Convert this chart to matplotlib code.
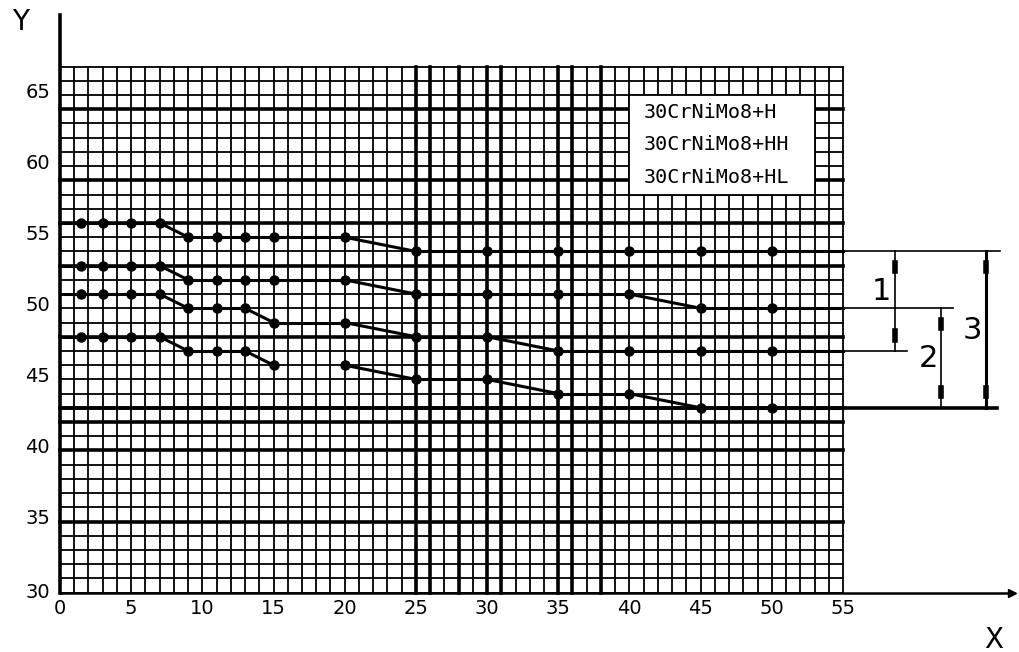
import numpy as np
import matplotlib.pyplot as plt

# Jominy distances (x) and hardness values (y)
dist = [1.5, 3, 5, 7, 9, 11, 13, 15, 20, 25, 30, 35, 40, 45, 50]
s1 = [56, 56, 56, 56, 55, 55, 55, 55, 55, 54, 54, 54, 54, 54, 54]
s2 = [53, 53, 53, 53, 52, 52, 52, 52, 52, 51, 51, 51, 51, 50, 50]
s3 = [51, 51, 51, 51, 50, 50, 50, 49, 49, 48, 48, 47, 47, 47, 47]
s4 = [48, 48, 48, 48, 47, 47, 47, 46, 46, 45, 45, 44, 44, 43, 43]
# segment starting at this x is not drawn
gaps = [[], [], [], [15]]

legend_lines = ['30CrNiMo8+H', '30CrNiMo8+HH', '30CrNiMo8+HL']
xticks = list(range(0, 56, 5))
yticks = list(range(30, 66, 5))
thick_rows = [35, 40, 42, 43, 48, 53, 56, 59, 64]
thick_cols = [25, 26, 28, 30, 31, 35, 36, 38]

XMAX, YMIN, YMAX = 55, 30, 67

fig = plt.figure(figsize=(10.2, 6.52), dpi=100)
ax = fig.add_axes([0, 0, 1, 1])
# pixel mapping: x=0 -> 60px, 14.236 px/unit ; y=30 -> 592.7px, 14.22 px/unit
sx, sy = 14.236, 14.22
ax.set_xlim(-60 / sx, (1020 - 60) / sx)
ax.set_ylim(30 - (652 - 592.7) / sy, 30 + 592.7 / sy)
ax.axis('off')

# grid
for v in range(0, XMAX + 1):
    lw = 2.6 if v in thick_cols else 1.3
    ax.plot([v, v], [YMIN, YMAX], color='black', lw=lw, zorder=1)
for h in range(YMIN, YMAX + 1):
    lw = 2.6 if h in thick_rows else 1.3
    ax.plot([0, XMAX], [h, h], color='black', lw=lw, zorder=1)

# legend box
ax.fill([40, 53, 53, 40], [58, 58, 65, 65], facecolor='white', edgecolor='black', lw=1.3, zorder=3)
for i, t in enumerate(legend_lines):
    ax.text(41, 63.8 - i * 2.3, t, fontsize=14.5, va='center', ha='left', zorder=4,
            family='DejaVu Sans Mono')

# series
for s, g in zip([s1, s2, s3, s4], gaps):
    for i in range(len(dist) - 1):
        if dist[i] in g:
            continue
        ax.plot(dist[i:i + 2], s[i:i + 2], color='black', lw=2.2, zorder=2)
    ax.plot([0, dist[0]], [s[0], s[0]], color='black', lw=2.2, zorder=2)
    ax.plot([dist[-1], XMAX], [s[-1], s[-1]], color='black', lw=2.2, zorder=2)
    ax.plot(dist, s, 'o', color='black', ms=6.5, zorder=3)

# axes with arrows
ax.plot([0, 0], [YMIN, 70.6], color='black', lw=2.6, zorder=2)
ax.plot([0, 66.6], [YMIN, YMIN], color='black', lw=1.8, zorder=2)
ax.plot([66.9], [YMIN], '>', color='black', ms=6, zorder=2)
ax.text(-2.8, 70.1, 'Y', fontsize=20, ha='center', va='center')
ax.text(65.6, 26.7, 'X', fontsize=20, ha='center', va='center')

for t in xticks:
    ax.text(t, 28.9, str(t), fontsize=14, ha='center', va='center')
for t in yticks:
    ax.text(-0.7, t + 0.2 if t != 30 else t, str(t), fontsize=14, ha='right', va='center')

# dimension lines on the right
ax.plot([XMAX, 66.0], [54, 54], color='black', lw=1.2)
ax.plot([XMAX, 62.7], [50, 50], color='black', lw=1.2)
ax.plot([XMAX, 59.5], [47, 47], color='black', lw=1.2)
ax.plot([XMAX, 65.8], [43, 43], color='black', lw=2.6)
ax.plot([0, XMAX], [43, 43], color='black', lw=2.6)

dims = [(58.65, 54, 47, 1.2), (61.9, 50, 43, 1.2), (65.05, 54, 43, 2.2)]
for xd, top, bot, lw in dims:
    ax.plot([xd, xd], [bot, top], color='black', lw=lw)
    ax.plot([xd, xd], [top - 0.8, top - 1.4], color='black', lw=4)
    ax.plot([xd, xd], [bot + 0.8, bot + 1.4], color='black', lw=4)

ax.text(57.7, 51.15, '1', fontsize=22, ha='center', va='center')
ax.text(61.0, 46.5, '2', fontsize=22, ha='center', va='center')
ax.text(64.1, 48.45, '3', fontsize=22, ha='center', va='center')

fig.savefig('out.png', dpi=100)
